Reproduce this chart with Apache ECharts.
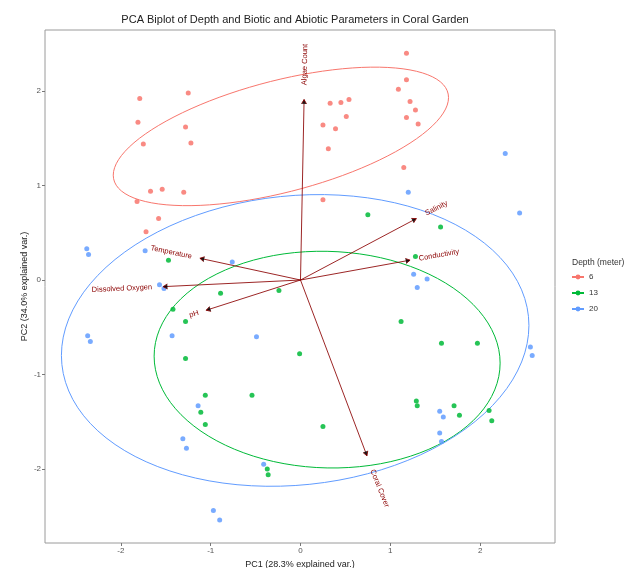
<!DOCTYPE html>
<html>
<head>
<meta charset="utf-8">
<title>PCA Biplot</title>
<script src="https://cdn.jsdelivr.net/npm/echarts@6/dist/echarts.min.js"></script>
<style>
  html, body { margin: 0; padding: 0; background: #fff; }
  #biplot { width: 635px; height: 568px; }
</style>
</head>
<body>
<div id="biplot"></div>
<script>
// PC scores per depth group
const depth6 = [
  [-1.79, 1.92], [-1.25, 1.98], [-1.81, 1.67], [-1.28, 1.62], [-1.75, 1.44], [-1.22, 1.45],
  [-1.67, 0.94], [-1.54, 0.96], [-1.30, 0.93], [-1.82, 0.83], [-1.58, 0.65], [-1.72, 0.51],
  [1.18, 2.40], [1.18, 2.12], [1.09, 2.02], [1.22, 1.89], [1.28, 1.80], [1.18, 1.72],
  [1.31, 1.65], [0.33, 1.87], [0.45, 1.88], [0.54, 1.91], [0.51, 1.73], [0.25, 1.64],
  [0.39, 1.60], [0.31, 1.39], [1.15, 1.19], [0.25, 0.85]
]
const depth13 = [
  [0.75, 0.69], [1.56, 0.56], [1.28, 0.25], [-1.47, 0.21], [-0.89, -0.14], [-0.24, -0.11],
  [-1.42, -0.31], [-1.28, -0.44], [-1.28, -0.83], [-0.01, -0.78], [-1.06, -1.22], [-0.54, -1.22],
  [-1.11, -1.40], [-1.06, -1.53], [-0.37, -2.00], [-0.36, -2.06], [1.12, -0.44], [1.57, -0.67],
  [1.97, -0.67], [1.29, -1.28], [1.30, -1.33], [1.71, -1.33], [1.77, -1.43], [2.10, -1.38],
  [2.13, -1.49], [0.25, -1.55]
]
const depth20 = [
  [2.28, 1.34], [1.20, 0.93], [2.44, 0.71], [-2.38, 0.33], [-2.36, 0.27], [-1.73, 0.31],
  [-0.76, 0.19], [-1.57, -0.05], [-1.52, -0.09], [-1.43, -0.59], [-0.49, -0.60], [-2.37, -0.59],
  [-2.34, -0.65], [-1.14, -1.33], [-1.31, -1.68], [-1.27, -1.78], [-0.41, -1.95], [-0.97, -2.44],
  [-0.90, -2.54], [1.26, 0.06], [1.41, 0.01], [1.30, -0.08], [2.56, -0.71], [2.58, -0.80],
  [1.55, -1.39], [1.59, -1.45], [1.55, -1.62], [1.57, -1.71]
]
const groupNames = ['6', '13', '20']

// variable loadings (arrows)
const varNames = ['Algae Count', 'Salinity', 'Conductivity', 'Temperature', 'Dissolved Oxygen', 'pH', 'Coral Cover']
const varPC1 = [0.04, 1.29, 1.22, -1.12, -1.53, -1.05, 0.74]
const varPC2 = [1.91, 0.65, 0.21, 0.23, -0.07, -0.32, -1.86]

const xTicks = [-2, -1, 0, 1, 2]
const yTicks = [-2, -1, 0, 1, 2]

const colors = ['#F8766D', '#00BA38', '#619CFF']
const font = "'Liberation Sans', Arial, sans-serif"
const ellipseProb = 0.68
const labelAdjust = 1.08

// normal data ellipse like ggbiplot: mu + circle %*% chol(sigma) * sqrt(qchisq(p, 2))
function dataEllipse(pts) {
  const n = pts.length
  const mx = pts.reduce((s, p) => s + p[0], 0) / n
  const my = pts.reduce((s, p) => s + p[1], 0) / n
  let a = 0, b = 0, c = 0
  pts.forEach(p => {
    a += (p[0] - mx) * (p[0] - mx)
    b += (p[0] - mx) * (p[1] - my)
    c += (p[1] - my) * (p[1] - my)
  })
  a /= n - 1; b /= n - 1; c /= n - 1
  const r11 = Math.sqrt(a)
  const r12 = b / r11
  const r22 = Math.sqrt(c - r12 * r12)
  const ed = Math.sqrt(-2 * Math.log(1 - ellipseProb))
  const out = []
  for (let i = 0; i <= 100; i++) {
    const t = -Math.PI + 2 * Math.PI * i / 100
    const cs = Math.cos(t), sn = Math.sin(t)
    out.push([mx + cs * r11 * ed, my + (cs * r12 + sn * r22) * ed])
  }
  return out
}

const groups = [depth6, depth13, depth20]

const series = []
groups.forEach((pts, i) => {
  series.push({
    name: groupNames[i],
    type: 'line',
    data: dataEllipse(pts),
    symbol: 'circle',
    symbolSize: 5,
    showSymbol: false,
    smooth: false,
    silent: true,
    lineStyle: { color: colors[i], width: 1 },
    itemStyle: { color: colors[i] },
    z: 2
  })
})
groups.forEach((pts, i) => {
  series.push({
    name: groupNames[i],
    type: 'scatter',
    data: pts,
    symbolSize: 5,
    itemStyle: { color: colors[i], opacity: 0.85 },
    z: 3
  })
})
series.push({
  type: 'custom',
  silent: true,
  z: 4,
  data: varPC1.map((v, i) => [v, varPC2[i], i]),
  renderItem(params, api) {
    const x = api.value(0)
    const y = api.value(1)
    const idx = api.value(2)
    const o = api.coord([0, 0])
    const t = api.coord([x, y])
    const p = api.coord([x * labelAdjust, y * labelAdjust])
    const ang = Math.atan2(t[1] - o[1], t[0] - o[0])
    const L = 5
    const h = Math.PI / 6
    const stroke = { stroke: '#8B0000', lineWidth: 1, opacity: 0.85 }
    return {
      type: 'group',
      children: [
        { type: 'line', shape: { x1: o[0], y1: o[1], x2: t[0], y2: t[1] }, style: stroke },
        {
          type: 'polyline',
          shape: { points: [
            [t[0] - L * Math.cos(ang - h), t[1] - L * Math.sin(ang - h)],
            [t[0], t[1]],
            [t[0] - L * Math.cos(ang + h), t[1] - L * Math.sin(ang + h)]
          ] },
          style: stroke
        },
        {
          type: 'text',
          x: p[0],
          y: p[1],
          rotation: Math.atan(y / x),
          style: {
            text: varNames[idx],
            fill: '#8B0000',
            fontSize: 7.5,
            fontFamily: font,
            align: x >= 0 ? 'left' : 'right',
            verticalAlign: 'middle'
          }
        }
      ]
    }
  }
})

const chart = echarts.init(document.getElementById('biplot'), null, { renderer: 'canvas' })
chart.setOption({
  animation: false,
  backgroundColor: '#fff',
  title: [
    {
      text: 'PCA Biplot of Depth and Biotic and Abiotic Parameters in Coral Garden',
      left: 290,
      top: 9,
      textAlign: 'center',
      textStyle: { fontSize: 11, fontWeight: 'normal', color: '#222', fontFamily: font }
    },
    {
      text: 'Depth (meter)',
      left: 567,
      top: 253,
      textStyle: { fontSize: 8.5, fontWeight: 'normal', color: '#333', fontFamily: font }
    }
  ],
  legend: {
    orient: 'vertical',
    left: 566,
    top: 268,
    itemWidth: 12,
    itemHeight: 6,
    itemGap: 8,
    selectedMode: false,
    data: groupNames,
    textStyle: { fontSize: 8, color: '#333', fontFamily: font }
  },
  grid: {
    left: 45,
    right: 80,
    top: 30,
    bottom: 25,
    containLabel: false,
    outerBoundsMode: 'none',
    show: true,
    borderColor: '#9a9a9a',
    borderWidth: 1,
    backgroundColor: '#fff'
  },
  xAxis: {
    type: 'value',
    min: -2.845,
    max: 2.834,
    name: 'PC1 (28.3% explained var.)',
    nameLocation: 'middle',
    nameGap: 12,
    nameTextStyle: { fontSize: 9, color: '#222', fontFamily: font },
    axisLine: { show: false, onZero: false },
    splitLine: { show: false },
    axisTick: { show: true, inside: false, length: 3, customValues: xTicks, lineStyle: { color: '#777' } },
    axisLabel: { customValues: xTicks, fontSize: 8, color: '#555', margin: 4, fontFamily: font }
  },
  yAxis: {
    type: 'value',
    min: -2.783,
    max: 2.646,
    name: 'PC2 (34.0% explained var.)',
    nameLocation: 'middle',
    nameGap: 16,
    nameMoveOverlap: false,
    nameRotate: 90,
    nameTextStyle: { fontSize: 9, color: '#222', fontFamily: font },
    axisLine: { show: false, onZero: false },
    splitLine: { show: false },
    axisTick: { show: true, inside: false, length: 3, customValues: yTicks, lineStyle: { color: '#777' } },
    axisLabel: { customValues: yTicks, fontSize: 8, color: '#555', margin: 4, fontFamily: font }
  },
  series: series
})
</script>
</body>
</html>
